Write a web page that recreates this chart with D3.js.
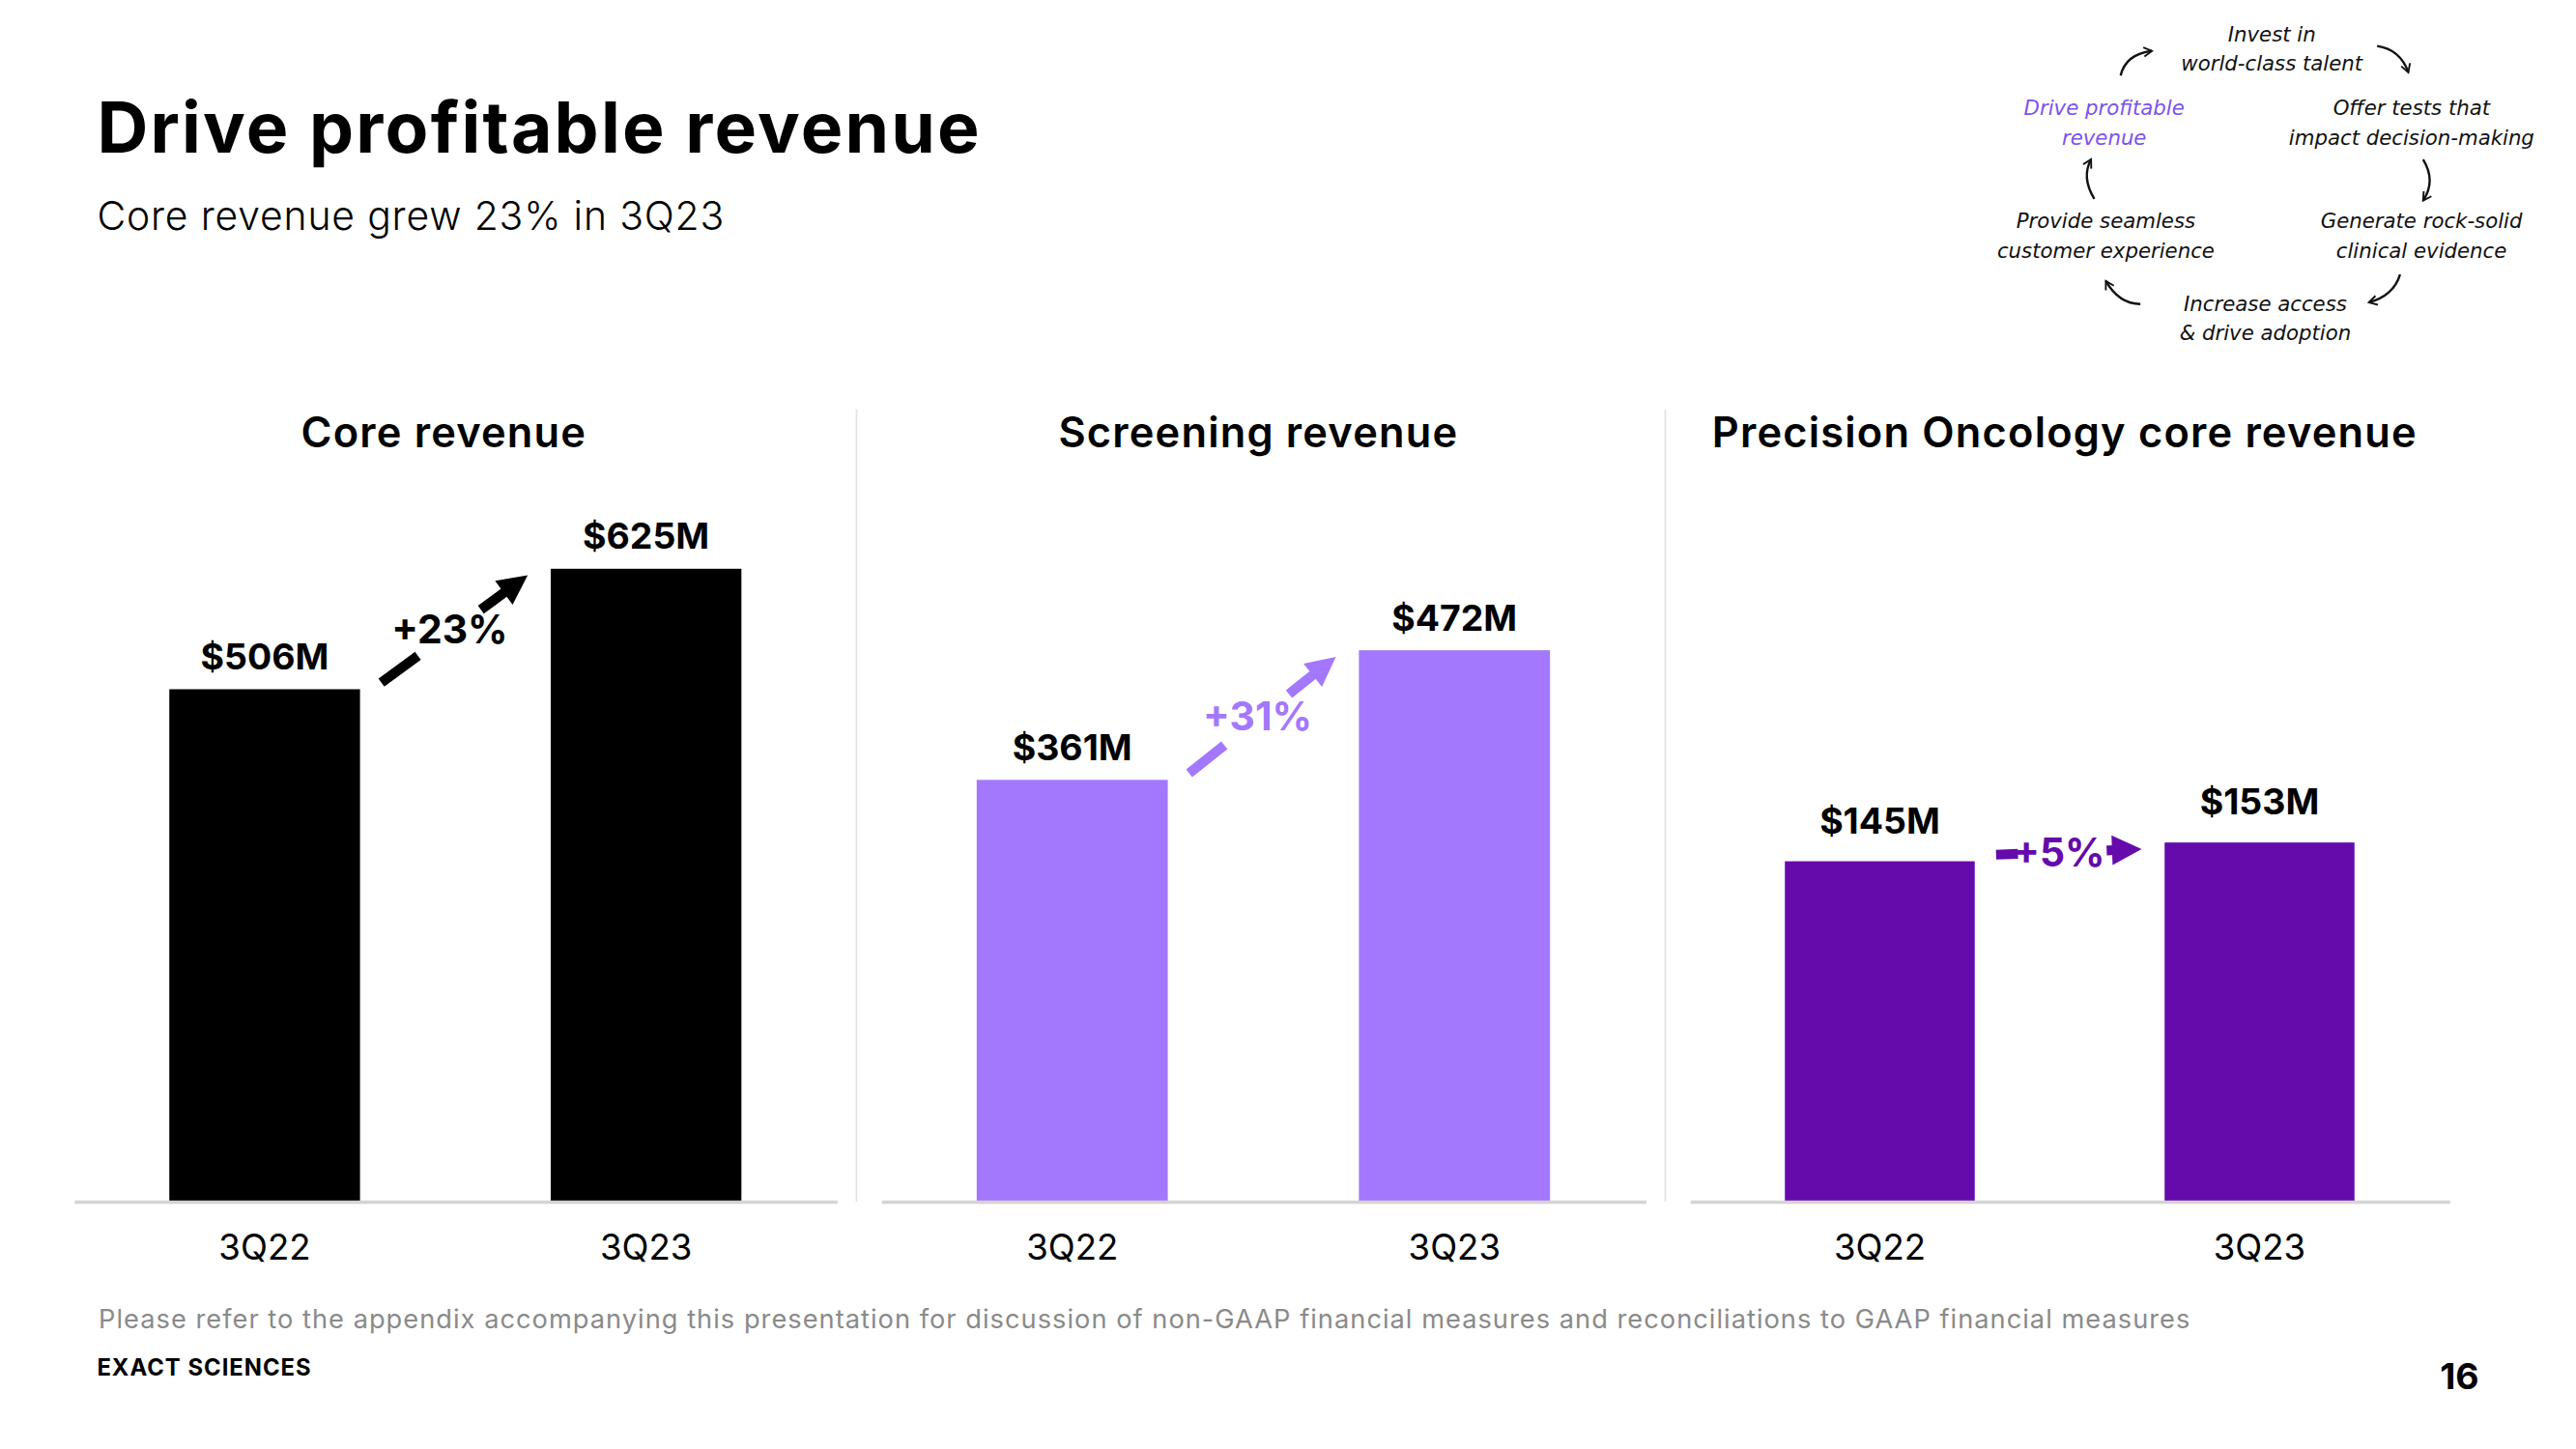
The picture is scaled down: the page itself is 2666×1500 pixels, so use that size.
<!DOCTYPE html>
<html>
<head>
<meta charset="utf-8">
<script src="https://cdn.jsdelivr.net/npm/d3@7"></script>
<style>
body{margin:0;background:#fff}
svg{display:block}
</style>
</head>
<body>
<div id="chart"></div>
<script>

// data
const quarters = ["3Q22","3Q23"]
const panelTitles = ["Core revenue","Screening revenue","Precision Oncology core revenue"]
const coreRevenue = [506,625]
const screeningRevenue = [361,472]
const oncologyRevenue = [145,153]
const growthLabels = ["+23%","+31%","+5%"]
const cycleSteps = [
["Invest in","world-class talent"],
["Offer tests that","impact decision-making"],
["Generate rock-solid","clinical evidence"],
["Increase access","& drive adoption"],
["Provide seamless","customer experience"],
["Drive profitable","revenue"]
]

// styles / layout
const colors = ["#000000","#a478fc","#650aab"]
const yMax = [781,677,337]
const panelX = [[45,509],[536,1001],[1028,1490]]
const gaps = [[0.25,0.68],[0.24,0.68],[0.15,0.76]]
const series = [coreRevenue,screeningRevenue,oncologyRevenue]

const W = 1567, H = W*1500/2666
const base = 731, yTop = 250
const font = "Inter, 'Open Sans', sans-serif"

const svg = d3.select("#chart")
.append("svg")
.attr("width",2666)
.attr("height",1500)
.attr("viewBox",`0 0 ${W} ${H}`)

svg.append("text")
.attr("x",59).attr("y",93)
.text("Drive profitable revenue")
.attr("font-family",font)
.attr("font-weight",700)
.attr("font-size",43)
.attr("letter-spacing",1.3)
.attr("fill","#000")

svg.append("text")
.attr("x",59).attr("y",140)
.text("Core revenue grew 23% in 3Q23")
.attr("font-family",font)
.attr("font-weight",300)
.attr("font-size",24)
.attr("letter-spacing",0.5)
.attr("fill","#000")

// separators
;[521,1013].forEach(x=>{
svg.append("line")
.attr("x1",x).attr("x2",x)
.attr("y1",249).attr("y2",731)
.attr("stroke","#e2e2e2")
.attr("stroke-width",1)
})

series.forEach((vals,i)=>{

const g = svg.append("g")

const x = d3.scaleBand()
.domain(quarters)
.range(panelX[i])
.paddingInner(0.5)
.paddingOuter(0.25)

const y = d3.scaleLinear()
.domain([0,yMax[i]])
.range([base,yTop])

const cx = (panelX[i][0]+panelX[i][1])/2

g.append("text")
.attr("x",cx+(i==0?-7:-3)).attr("y",272)
.attr("text-anchor","middle")
.text(panelTitles[i])
.attr("font-family",font)
.attr("font-weight",600)
.attr("font-size",25.5)
.attr("letter-spacing",0.7)
.attr("fill","#000")

g.selectAll("rect")
.data(vals)
.enter()
.append("rect")
.attr("x",(d,j)=>x(quarters[j]))
.attr("y",d=>y(d))
.attr("width",x.bandwidth())
.attr("height",d=>y(0)-y(d))
.attr("fill",colors[i])

// baseline axis
const axis = g.append("g")
.attr("transform",`translate(0,${base})`)
.call(d3.axisBottom(x).tickSize(0).tickPadding(20))
axis.select(".domain").attr("stroke","#d4d4d4").attr("stroke-width",2)
axis.selectAll("text")
.attr("font-family",font)
.attr("font-weight",400)
.attr("font-size",21.5)
.attr("fill","#000")

g.selectAll(".val")
.data(vals)
.enter()
.append("text")
.attr("class","val")
.attr("x",(d,j)=>x(quarters[j])+x.bandwidth()/2)
.attr("y",d=>y(d)-(i==2?17:12))
.attr("text-anchor","middle")
.text(d=>"$"+d+"M")
.attr("font-family",font)
.attr("font-weight",700)
.attr("font-size",22)
.attr("fill","#000")

// growth arrow
const x0 = x(quarters[0])+x.bandwidth()+13
const y0 = y(vals[0])-4
const x1 = x(quarters[1])-14
const y1 = y(vals[1])+4
const pt = t=>[x0+(x1-x0)*t, y0+(y1-y0)*t]
const ang = Math.atan2(y1-y0,x1-x0)
const headLen = 18, headW = 9
const hb = [x1-headLen*Math.cos(ang), y1-headLen*Math.sin(ang)]
const a = pt(0), b = pt(gaps[i][0]), c = pt(gaps[i][1])

g.append("line")
.attr("x1",a[0]).attr("y1",a[1])
.attr("x2",b[0]).attr("y2",b[1])
.attr("stroke",colors[i]).attr("stroke-width",6)

g.append("line")
.attr("x1",c[0]).attr("y1",c[1])
.attr("x2",hb[0]+2*Math.cos(ang)).attr("y2",hb[1]+2*Math.sin(ang))
.attr("stroke",colors[i]).attr("stroke-width",6)

const nx = -Math.sin(ang), ny = Math.cos(ang)
g.append("path")
.attr("d",`M${x1},${y1}L${hb[0]+nx*headW},${hb[1]+ny*headW}L${hb[0]-nx*headW},${hb[1]-ny*headW}Z`)
.attr("fill",colors[i])

const m = pt(0.5)
g.append("text")
.attr("x",m[0]-(i==2?6:3)).attr("y",m[1]+9)
.attr("text-anchor","middle")
.text(growthLabels[i])
.attr("font-family",font)
.attr("font-weight",700)
.attr("font-size",24)
.attr("fill",colors[i])

})

// footer
svg.append("text")
.attr("x",60).attr("y",808)
.text("Please refer to the appendix accompanying this presentation for discussion of non-GAAP financial measures and reconciliations to GAAP financial measures")
.attr("font-family",font)
.attr("font-weight",400)
.attr("font-size",16)
.attr("letter-spacing",0.6)
.attr("fill","#8a8a8a")

svg.append("text")
.attr("x",59).attr("y",837)
.text("EXACT SCIENCES")
.attr("font-family",font)
.attr("font-weight",700)
.attr("font-size",14)
.attr("letter-spacing",0.6)
.attr("fill","#000")

svg.append("text")
.attr("x",1508).attr("y",845)
.attr("text-anchor","end")
.text("16")
.attr("font-family",font)
.attr("font-weight",700)
.attr("font-size",22)
.attr("fill","#000")

// cycle diagram
const cyclePos = [[1382,25],[1467,70],[1473,139],[1378,189],[1281,139],[1280,70]]
const hand = "'DejaVu Sans', sans-serif"

cycleSteps.forEach((lines,i)=>{
const t = svg.append("text")
.attr("text-anchor","middle")
.attr("font-family",hand)
.attr("font-style","italic")
.attr("font-size",12.5)
.attr("fill",i==5?"#7b52f0":"#111")
lines.forEach((s,k)=>{
t.append("tspan")
.attr("x",cyclePos[i][0])
.attr("y",cyclePos[i][1]+k*18)
.text(s)
})
})

svg.append("defs")
.append("marker")
.attr("id","hd")
.attr("viewBox","0 0 10 10")
.attr("refX",8).attr("refY",5)
.attr("markerWidth",7).attr("markerHeight",7)
.attr("markerUnits","userSpaceOnUse")
.attr("orient","auto")
.append("path")
.attr("d","M1,1L8,5L1,9")
.attr("fill","none")
.attr("stroke","#111")
.attr("stroke-width",1.6)

const cycleArrows = [
[[1290,46],[1293,33],[1309,31]],
[[1446,28],[1460,30],[1465,44]],
[[1474,97],[1482,110],[1474,122]],
[[1460,167],[1456,180],[1441,184]],
[[1302,185],[1289,185],[1281,171]],
[[1274,121],[1266,108],[1272,97]]
]

svg.selectAll(".cyc")
.data(cycleArrows)
.enter()
.append("path")
.attr("class","cyc")
.attr("d",d=>`M${d[0][0]},${d[0][1]}Q${d[1][0]},${d[1][1]} ${d[2][0]},${d[2][1]}`)
.attr("fill","none")
.attr("stroke","#111")
.attr("stroke-width",1.4)
.attr("marker-end","url(#hd)")

</script>
</body>
</html>
